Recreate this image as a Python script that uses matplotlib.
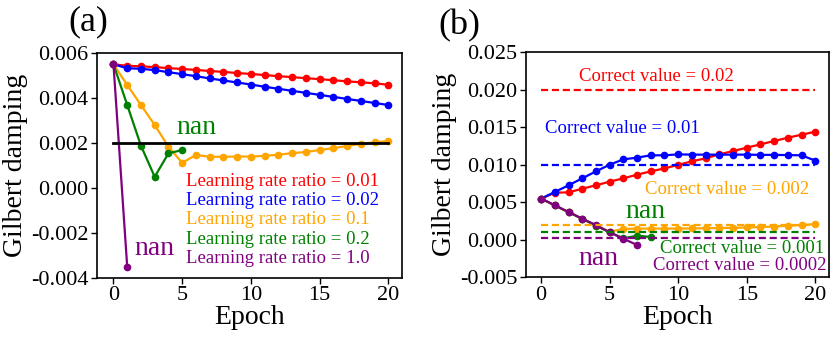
import numpy as np
import matplotlib
matplotlib.use('Agg')
import matplotlib.pyplot as plt

plt.rcParams['font.family'] = ['Liberation Serif', 'DejaVu Serif']
plt.rcParams['axes.unicode_minus'] = False

# Panel (a): training with different learning rate ratios (correct value 0.002)
epochs = np.arange(21)
a_red = [0.0055, 0.00543, 0.00541, 0.00537, 0.00533, 0.00529, 0.00525, 0.0052, 0.00516,
         0.00511, 0.00507, 0.00502, 0.00497, 0.00493, 0.00488, 0.00484, 0.00479, 0.00474,
         0.0047, 0.00465, 0.00459]
a_blue = [0.0055, 0.00532, 0.0053, 0.00524, 0.00515, 0.00506, 0.00497, 0.00487, 0.00478,
          0.00469, 0.0046, 0.0045, 0.00441, 0.00432, 0.00423, 0.00414, 0.00405, 0.00396,
          0.00387, 0.00378, 0.00369]
a_orange = [0.0055, 0.00458, 0.00369, 0.0028, 0.00184, 0.00112, 0.00147, 0.00139, 0.00139,
            0.0014, 0.0014, 0.00143, 0.00148, 0.00155, 0.0016, 0.00169, 0.00177, 0.00187,
            0.00196, 0.00203, 0.00209]
a_green = [0.0055, 0.00369, 0.00188, 0.0005, 0.00154, 0.00169]
a_purple = [0.0055, -0.0035]
a_labels = ['Learning rate ratio = 0.01', 'Learning rate ratio = 0.02',
            'Learning rate ratio = 0.1', 'Learning rate ratio = 0.2',
            'Learning rate ratio = 1.0']
a_target = 0.002

# Panel (b): training towards different correct values
b_red = [0.0055, 0.00629, 0.00633, 0.00682, 0.00727, 0.00776, 0.0082, 0.00869, 0.00913,
         0.00953, 0.01, 0.01047, 0.01087, 0.0114, 0.01184, 0.01229, 0.01273, 0.01318,
         0.01362, 0.01402, 0.01442]
b_blue = [0.0055, 0.00638, 0.00727, 0.0082, 0.00913, 0.01002, 0.01073, 0.01096, 0.01127,
          0.01127, 0.0114, 0.01136, 0.01136, 0.01136, 0.01136, 0.01136, 0.01133, 0.01133,
          0.0113, 0.01127, 0.01056]
b_orange = [0.0055, 0.0046, 0.0037, 0.0028, 0.0019, 0.0011, 0.00145, 0.0015, 0.0015,
            0.0015, 0.0015, 0.00152, 0.00155, 0.00158, 0.0016, 0.00165, 0.0017, 0.00178,
            0.00188, 0.00198, 0.0021]
b_green = [0.0055, 0.0046, 0.0037, 0.0028, 0.0019, 0.001, 0.0002, 0.00056, 0.00038]
b_purple = [0.0055, 0.0046, 0.00371, 0.00282, 0.00198, 0.001, 0.00016, -0.00069]
b_correct = [0.02, 0.01, 0.002, 0.001, 0.0002]
b_labels = ['Correct value = 0.02', 'Correct value = 0.01', 'Correct value = 0.002',
            'Correct value = 0.001', 'Correct value = 0.0002']

colors = ['red', 'blue', 'orange', 'green', 'purple']

fig = plt.figure(figsize=(8.31, 3.42), dpi=100)
ax1 = fig.add_axes([0.1167, 0.187, 0.3671, 0.658])
ax2 = fig.add_axes([0.633, 0.189, 0.3646, 0.658])

line_kw = dict(marker='o', markersize=4.5, linewidth=1.6)

# (a)
for ys, c in zip([a_red, a_blue, a_orange, a_green, a_purple], colors):
    ax1.plot(epochs[:len(ys)], ys, color=c, **line_kw)
ax1.plot([0, 20], [a_target, a_target], color='black', linewidth=2)
ax1.text(4.6, 0.00267, 'nan', color='green', fontsize=20, va='center')
ax1.text(1.5, -0.00267, 'nan', color='purple', fontsize=20, va='center')
for i, (lab, c) in enumerate(zip(a_labels, colors)):
    ax1.text(5.3, 0.00028 - i * 0.00085, lab, color=c, fontsize=13.5, va='center')
ax1.set_xlim(-1.2, 21)
ax1.set_ylim(-0.004, 0.006)
ax1.set_xticks([0, 5, 10, 15, 20])
ax1.set_yticks([-0.004, -0.002, 0.0, 0.002, 0.004, 0.006])
ax1.set_yticklabels(['-0.004', '-0.002', '0.000', '0.002', '0.004', '0.006'])
ax1.set_xlabel('Epoch', fontsize=20, labelpad=0)
ax1.set_ylabel('Gilbert damping', fontsize=20, labelpad=2)
fig.text(0.082, 0.936, '(a)', fontsize=26, va='center')

# (b)
for ys, c in zip([b_red, b_blue, b_orange, b_green, b_purple], colors):
    ax2.plot(epochs[:len(ys)], ys, color=c, **line_kw)
for v, c in zip(b_correct, colors):
    ax2.plot([0, 20], [v, v], color=c, linestyle='--', linewidth=1.6, dashes=(3.2, 1.7))
b_text_pos = [(2.76, 0.02175), (0.3, 0.01487), (7.56, 0.00673), (8.7, -0.00113), (8.17, -0.00345)]
for (x, y), lab, c in zip(b_text_pos, b_labels, colors):
    ax2.text(x, y, lab, color=c, fontsize=13.5, va='center')
ax2.text(6.18, 0.00375, 'nan', color='green', fontsize=20, va='center')
ax2.text(2.7, -0.00247, 'nan', color='purple', fontsize=20, va='center')
ax2.set_xlim(-1.1, 21)
ax2.set_ylim(-0.005, 0.025)
ax2.set_xticks([0, 5, 10, 15, 20])
ax2.set_yticks([-0.005, 0.0, 0.005, 0.01, 0.015, 0.02, 0.025])
ax2.set_yticklabels(['-0.005', '0.000', '0.005', '0.010', '0.015', '0.020', '0.025'])
ax2.set_xlabel('Epoch', fontsize=20, labelpad=0)
ax2.set_ylabel('Gilbert damping', fontsize=20, labelpad=2)
fig.text(0.528, 0.925, '(b)', fontsize=26, va='center')

for ax in (ax1, ax2):
    ax.tick_params(labelsize=16, length=4, width=1, pad=2)
    for s in ax.spines.values():
        s.set_linewidth(1.2)

fig.savefig('out.png', dpi=100)
